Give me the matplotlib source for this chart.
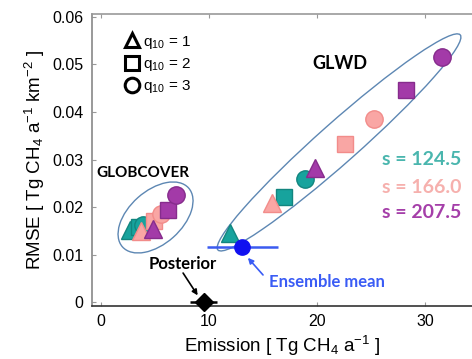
import numpy as np
import matplotlib.pyplot as plt
from matplotlib.lines import Line2D
from matplotlib.patches import Ellipse
from matplotlib.transforms import Affine2D

plt.rcParams['font.family'] = ['Liberation Sans', 'DejaVu Sans']
plt.rcParams['mathtext.fontset'] = 'custom'
plt.rcParams['mathtext.rm'] = 'Liberation Sans'
plt.rcParams['mathtext.it'] = 'Liberation Sans:italic'

# s values and colours
s_labels = ["s = 124.5", "s = 166.0", "s = 207.5"]
s_colors = ["#17a39d", "#f9a6a4", "#a33aa8"]
s_edges = ["#12857f", "#f28c8a", "#862c8c"]
s_text_colors = ["#4ab6ae", "#f6b0ad", "#a53fa9"]
q10_markers = ["^", "s", "o"]
q10_labels = ["q$_{10}$ = 1", "q$_{10}$ = 2", "q$_{10}$ = 3"]

# GLWD runs: rows = s, columns = q10 (1, 2, 3)
glwd_emis = [[11.9, 16.9, 18.9],
             [15.8, 22.6, 25.3],
             [19.8, 28.2, 31.6]]
glwd_rmse = [[0.0145, 0.0221, 0.0259],
             [0.0208, 0.0333, 0.0385],
             [0.0282, 0.0446, 0.0516]]

# GLOBCOVER runs
gc_emis = [[2.7, 3.5, 3.9],
           [3.7, 4.9, 5.6],
           [4.8, 6.2, 6.9]]
gc_rmse = [[0.0152, 0.0157, 0.0162],
           [0.0150, 0.0170, 0.0186],
           [0.0153, 0.0194, 0.0226]]

ens_emis, ens_rmse, ens_err = 13.1, 0.0116, 3.3
post_emis, post_rmse, post_err = 9.5, 0.0, 1.25

fig = plt.figure(figsize=(4.72, 3.59), dpi=100)
ax = fig.add_axes([0.195, 0.1476, 0.805, 0.8134])

for i in range(3):
    for j in range(3):
        ms = 13 if q10_markers[j] == "^" else (11 if q10_markers[j] == "s" else 12.5)
        for ex, ey in [(glwd_emis, glwd_rmse), (gc_emis, gc_rmse)]:
            ax.plot(ex[i][j], ey[i][j], marker=q10_markers[j], ms=ms, ls='none',
                    mfc=s_colors[i], mec=s_edges[i], mew=1.0, zorder=3)

# ensemble mean and posterior
ax.errorbar(ens_emis, ens_rmse, xerr=ens_err, fmt='o', color='#1010f0', ecolor='#3b5bf0',
            ms=11, elinewidth=1.8, capsize=0, zorder=4)
ax.errorbar(post_emis, post_rmse, xerr=post_err, fmt='D', color='black',
            ms=9, elinewidth=1.8, capsize=0, zorder=4, clip_on=False)

# ellipses drawn in a frame with equal pixel scaling
k = 440.0
tr = Affine2D().scale(1, 1 / k) + ax.transData
ax.add_patch(Ellipse((22.04, 0.0336 * k), 2 * 15.0, 2 * 1.85, angle=41.6,
                     fill=False, ec='#5d87b3', lw=1.0, transform=tr, zorder=2))
ax.add_patch(Ellipse((5.05, 0.0178 * k), 2 * 4.1, 2 * 2.46, angle=41.7,
                     fill=False, ec='#5d87b3', lw=1.0, transform=tr, zorder=2))

lab_font = ['Lato', 'DejaVu Sans']
ax.text(22.1, 0.0503, "GLWD", fontsize=13, fontweight='bold', family=lab_font,
        ha='center', va='center')
ax.text(3.9, 0.0272, "GLOBCOVER", fontsize=11, fontweight='bold', family=lab_font,
        ha='center', va='center')
for lab, col, yy in zip(s_labels, s_text_colors, [0.0299, 0.0242, 0.0189]):
    ax.text(33.4, yy, lab, color=col, fontsize=14, fontweight='bold', family=lab_font,
            ha='right', va='center')

ax.text(7.6, 0.0079, "Posterior", fontsize=12, fontweight='bold', family=lab_font,
        ha='center', va='center')
ax.annotate("", xy=(8.95, 0.0014), xytext=(7.6, 0.0061),
            arrowprops=dict(arrowstyle='-|>', color='black', lw=1.2, shrinkA=0, shrinkB=0,
                            mutation_scale=8))
ax.text(20.9, 0.0042, "Ensemble mean", fontsize=12, fontweight='bold', family=lab_font,
        color='#3a5cf5', ha='center', va='center')
ax.annotate("", xy=(13.6, 0.0093), xytext=(15.0, 0.0057),
            arrowprops=dict(arrowstyle='-|>', color='#3a5cf5', lw=1.2,
                            shrinkA=0, shrinkB=0, mutation_scale=8))

handles = [Line2D([], [], marker=m, color='black', mfc='none', mew=2.2, ms=10.5, ls='none')
           for m in q10_markers]
leg = ax.legend(handles, q10_labels, loc='upper left', bbox_to_anchor=(0.045, 0.98),
                frameon=False, handletextpad=0.1, labelspacing=0.35, fontsize=11,
                handlelength=1.2)

ax.set_xlim(-0.83, 34.35)
ax.set_ylim(-0.00084, 0.06063)
ax.set_xticks([0, 10, 20, 30])
ax.set_yticks([0, 0.01, 0.02, 0.03, 0.04, 0.05, 0.06])
ax.set_yticklabels(["0", "0.01", "0.02", "0.03", "0.04", "0.05", "0.06"])
ax.tick_params(direction='in', top=True, length=3, labelsize=11.5, colors='#999999',
               labelcolor='black', pad=6)
ax.spines['right'].set_visible(False)
ax.spines['left'].set_color('#888888')
ax.spines['top'].set_color('#999999')
ax.spines['bottom'].set_color('#333333')
for sp in ax.spines.values():
    sp.set_linewidth(1.2)

ax.set_xlabel("Emission [ Tg CH$_4$ a$^{-1}$ ]", fontsize=13.5, labelpad=3)
ax.set_ylabel("RMSE [ Tg CH$_4$ a$^{-1}$ km$^{-2}$ ]", fontsize=13.5, labelpad=4)

fig.savefig("out.png", dpi=100)
